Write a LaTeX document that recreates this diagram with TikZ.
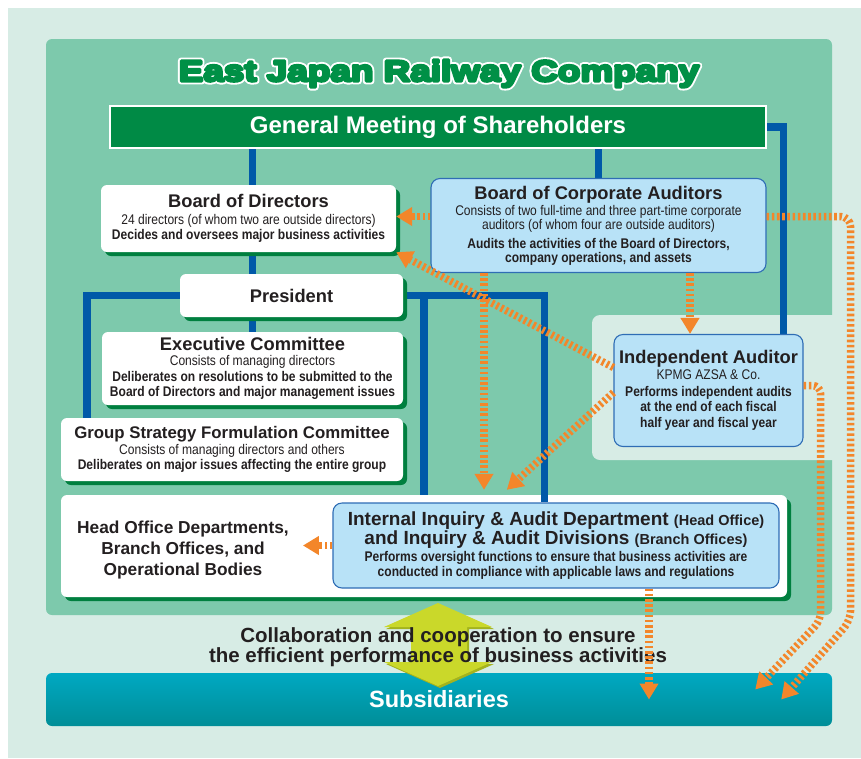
\documentclass[tikz,border=0pt]{standalone}
\usepackage{fontspec}
\setmainfont{Liberation Sans}
\newfontfamily\hv{Liberation Sans}
\newfontfamily\hvn{Liberation Sans}[FakeStretch=0.86]
\newfontfamily\hvw{Liberation Sans}[FakeStretch=1.25]
\usetikzlibrary{arrows.meta,shadows}

\definecolor{mintbg}{HTML}{D7ECE5}
\definecolor{panelgreen}{HTML}{7DC9AC}
\definecolor{gmgreen}{HTML}{008A45}
\definecolor{titlegreen}{HTML}{009046}
\definecolor{shadegreen}{HTML}{007F3F}
\definecolor{wireblue}{HTML}{0059A8}
\definecolor{boxblue}{HTML}{B8E2F7}
\definecolor{boxline}{HTML}{2F6DB5}
\definecolor{auditorange}{HTML}{F3862A}
\definecolor{hexgreen}{HTML}{CAD82A}
\definecolor{hexshade}{HTML}{A3B31E}
\definecolor{teallight}{HTML}{00A8C2}
\definecolor{tealdark}{HTML}{008E97}
\definecolor{textdark}{HTML}{231F20}

\pgfdeclarelayer{background}
\pgfdeclarelayer{wires}
\pgfsetlayers{background,wires,main}

\newcommand\boxtitle{\hv\bfseries\fontsize{18.3}{20}\selectfont}
\newcommand\boxnote{\hvn\mdseries\fontsize{14}{15.5}\selectfont}
\newcommand\boxbold{\hvn\bfseries\fontsize{14}{15.5}\selectfont}
% stroked glyphs: #1 = stroke width
\newcommand\stroked[2]{\special{pdf:literal direct 2 Tr 1 j #1 w}#2\special{pdf:literal direct 0 Tr}}

\tikzset{
  wbox/.style={fill=white, rounded corners=6pt, inner sep=0pt, align=center, text=textdark,
    font=\boxnote,
    drop shadow={shadow xshift=4pt, shadow yshift=-4pt, fill=shadegreen, opacity=1}},
  bbox/.style={fill=boxblue, draw=boxline, line width=1.1pt, rounded corners=9pt,
    inner sep=0pt, align=center, text=textdark, font=\boxnote},
  gmbox/.style={fill=gmgreen, draw=white, line width=2.5pt, minimum width=656pt,
    minimum height=42pt, text=white, font=\hv\bfseries\fontsize{24}{28}\selectfont},
  titletext/.style={text=titlegreen, inner sep=0pt,
    font=\hvw\bfseries\fontsize{29.5}{32}\selectfont},
  subbar/.style={rounded corners=6pt, top color=teallight, bottom color=tealdark,
    minimum width=786pt, minimum height=53pt, text=white,
    font=\hv\bfseries\fontsize{23.5}{26}\selectfont},
  wire/.style={draw=wireblue, line width=7.5pt},
  audit/.style={draw=auditorange, line width=7.5pt, dash pattern=on 2.6pt off 2.6pt,
    -{Triangle[width=18pt,length=16pt]}},
}

\begin{document}
\begin{tikzpicture}[x=1pt,y=-1pt]
\useasboundingbox (0,0) rectangle (861,758);

\begin{pgfonlayer}{background}
  \fill[white] (0,0) rectangle (861,758);
  \fill[mintbg] (8,8) rectangle (861,758);
  \fill[panelgreen, rounded corners=6pt] (46,39) rectangle (832,615);
  \fill[mintbg, rounded corners=8pt] (592,315) rectangle (846,460);
  \node[wbox, minimum width=726pt, minimum height=102pt] (panel) at (424,546) {};
\end{pgfonlayer}

% title with white outline
\node[titletext, text=white] (titleback) at (439,73.5) {\stroked{6.6}{East Japan Railway Company}};
\node[titletext] (title) at (titleback) {\stroked{2.8}{East Japan Railway Company}};

\node[gmbox] (gm) at (438,127) {General Meeting of Shareholders};

% subsidiaries and collaboration arrow
\node[subbar] (sub) at (439,699.5) {Subsidiaries};
\fill[hexshade, shift={(2,2)}] (438,603) -- (492,627) -- (467,627) -- (467,662) -- (492,662)
  -- (438,686) -- (384,662) -- (411,662) -- (411,627) -- (384,627) -- cycle;
\fill[hexgreen] (438,603) -- (492,627) -- (467,627) -- (467,662) -- (492,662)
  -- (438,686) -- (384,662) -- (411,662) -- (411,627) -- (384,627) -- cycle;
\node[font=\hv\bfseries\fontsize{20.5}{20}\selectfont, align=center, text=textdark, inner sep=0pt]
  (collab) at (438,647.6) {Collaboration and cooperation to ensure\\the efficient performance of business activities};

% executive side
\node[wbox, minimum width=295pt, minimum height=67pt] (bod) at (248.5,218.5)
  {\boxtitle Board of Directors\\[1pt]\boxnote 24 directors (of whom two are outside directors)\\\boxbold Decides and oversees major business activities};
\node[wbox, minimum width=223pt, minimum height=43pt] (pres) at (291.5,295.5) {\boxtitle President};
\node[wbox, minimum width=301pt, minimum height=73pt] (ec) at (252.5,368.5)
  {\boxtitle Executive Committee\\\boxnote Consists of managing directors\\\boxbold Deliberates on resolutions to be submitted to the\\\boxbold Board of Directors and major management issues};
\node[wbox, minimum width=342pt, minimum height=63pt] (gsfc) at (232,449.5)
  {\hv\bfseries\fontsize{16.8}{20}\selectfont Group Strategy Formulation Committee\\\boxnote Consists of managing directors and others\\\boxbold Deliberates on major issues affecting the entire group};
\node[font=\hv\bfseries\fontsize{17.3}{21}\selectfont, align=center, text=textdark, inner sep=0pt]
  (hod) at (183,550) {Head Office Departments,\\Branch Offices, and\\Operational Bodies};

% audit side
\node[bbox, minimum width=335pt, minimum height=94pt, font=\hvn\fontsize{14}{14}\selectfont] (boca) at (598.5,225.5)
  {\boxtitle Board of Corporate Auditors\\[2pt]\boxnote Consists of two full-time and three part-time corporate\\\boxnote auditors (of whom four are outside auditors)\\[5pt]\boxbold Audits the activities of the Board of Directors,\\\boxbold company operations, and assets};
\node[bbox, minimum width=189pt, minimum height=112pt] (ia) at (708.5,390.5)
  {\boxtitle Independent Auditor\\\boxnote KPMG AZSA \& Co.\\[1.5pt]\boxbold Performs independent audits\\\boxbold at the end of each fiscal\\\boxbold half year and fiscal year};
\node[bbox, minimum width=446pt, minimum height=85pt] (iiad) at (556,545.5)
  {\hv\bfseries\fontsize{19}{20}\selectfont Internal Inquiry \& Audit Department {\fontsize{14.5}{16}\selectfont(Head Office)}\\[1pt]\hv\bfseries\fontsize{19}{20}\selectfont and Inquiry \& Audit Divisions {\fontsize{14.5}{16}\selectfont(Branch Offices)}\\[1pt]\boxbold Performs oversight functions to ensure that business activities are\\\boxbold conducted in compliance with applicable laws and regulations};

% reporting lines
\begin{pgfonlayer}{wires}
  \draw[wire] (gm.south -| ec.north) -- (ec.north);
  \draw[wire] (gm.south -| boca.north) -- (boca.north);
  \draw[wire] (gm.east) -| ([xshift=-20pt]ia.north east);
  \draw[wire] ([xshift=26pt]gsfc.north west) |- (pres.west);
  \draw[wire] (pres.east) -| ([xshift=212pt]iiad.north west);
  \coordinate (pm) at ([xshift=363pt]panel.north west);
  \draw[wire] (pm) -- (pm |- pres.east);
\end{pgfonlayer}

% audit arrows
\coordinate (a1) at ([yshift=9pt]boca.west);
\draw[audit] (a1) -- (a1 -| bod.east);
\coordinate (a2) at ([yshift=23pt]ia.west);
\draw[audit] (a2) -- (bod.south east);
\coordinate (a3) at ([xshift=-114.5pt]boca.south);
\draw[audit, shorten >=5pt] (a3) -- (a3 |- panel.north);
\coordinate (a4) at ([xshift=91.5pt]boca.south);
\draw[audit] (a4) -- (a4 |- ia.north);
\coordinate (a5) at ([yshift=-2pt]ia.west);
\coordinate (a5e) at ([xshift=446pt,yshift=5pt]panel.north west);
\draw[audit] (a5) -- (a5e);
\coordinate (a6) at ([yshift=9pt]boca.east);
\draw[audit, rounded corners=10pt] (a6) -- ++(84,0) -- ++(0,404) -- ([xshift=-51pt]sub.east);
\coordinate (a7) at ([yshift=5pt]ia.east);
\draw[audit, rounded corners=8pt] (a7) -- ++(17,0) -- ++(0,235) -- ([shift={(-77pt,10pt)}]sub.east);
\coordinate (a8) at ([xshift=93pt]iiad.south);
\draw[audit] (a8) -- (a8 |- sub.center);
\draw[audit, shorten >=14pt] (iiad.west) -- (iiad.west -| hod.east);

\end{tikzpicture}
\end{document}
